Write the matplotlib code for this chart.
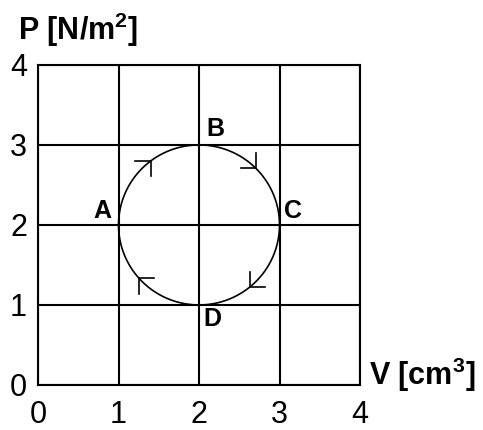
import numpy as np
import matplotlib
matplotlib.use("Agg")
import matplotlib.pyplot as plt

plt.rcParams['font.family'] = ['Liberation Sans', 'DejaVu Sans']
plt.rcParams['mathtext.fontset'] = 'custom'
plt.rcParams['mathtext.rm'] = 'Liberation Sans'
plt.rcParams['mathtext.bf'] = 'Liberation Sans:bold'

# cycle data
center = (2.0, 2.0)
radius = 1.0
ticks = [0, 1, 2, 3, 4]
# angles (deg) of the arrow tips on the circle, clockwise motion
arrow_angles = [127, 45, -51, -138]
points = ['A', 'B', 'C', 'D']
label_xy = [(0.80, 2.18), (2.2, 3.2), (3.17, 2.18), (2.16, 0.82)]

fig = plt.figure(figsize=(4.83, 4.30), dpi=100)
ax = fig.add_axes([0.0787, 0.1047, 0.6667, 0.7443])
ax.set_xlim(0, 4)
ax.set_ylim(0, 4)
ax.set_xticks(ticks)
ax.set_yticks(ticks)
ax.grid(True, color='black', linewidth=1.5)
for s in ax.spines.values():
    s.set_linewidth(1.5)
ax.tick_params(length=0, labelsize=22)
ax.tick_params(axis='x', pad=11)
ax.tick_params(axis='y', pad=8)

t = np.linspace(0, 2 * np.pi, 400)
ax.plot(center[0] + radius * np.cos(t), center[1] + radius * np.sin(t),
        color='black', linewidth=1.2, zorder=3)

# half-open arrow heads drawn as two barbs
barb = 0.19
for a in arrow_angles:
    r = np.radians(a)
    tx = center[0] + radius * np.cos(r)
    ty = center[1] + radius * np.sin(r)
    # clockwise tangent
    dx, dy = np.sin(r), -np.cos(r)
    bx = -np.sign(dx) * barb
    by = -np.sign(dy) * barb
    ax.plot([tx + bx, tx, tx], [ty, ty, ty + by], color='black',
            linewidth=1.2, zorder=3, solid_joinstyle='miter')

for name, (lx, ly) in zip(points, label_xy):
    ax.text(lx, ly, name, fontsize=18, fontweight='bold', ha='center', va='center')

fig.text(0.037, 0.93, r'P [N/m$^{\mathbf{2}}$]', fontsize=22, fontweight='bold',
         ha='left', va='center')
fig.text(0.763, 0.128, r'V [cm$^{\mathbf{3}}$]', fontsize=22, fontweight='bold',
         ha='left', va='center')

fig.savefig('out.png', dpi=100)
